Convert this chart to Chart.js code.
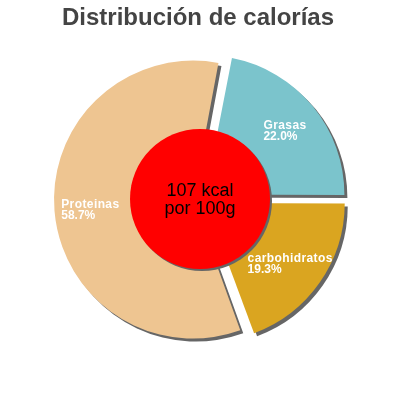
<!DOCTYPE html>
<html>
<head>
<meta charset="utf-8">
<script src="https://cdn.jsdelivr.net/npm/chart.js@4.4.1/dist/chart.umd.min.js"></script>
<style>
  body { margin: 0; background: #fff; }
  canvas { display: block; }
</style>
</head>
<body>
<canvas id="calChart" width="400" height="400"></canvas>
<script>
const labels = ["Grasas", "carbohidratos", "Proteinas"];
const percents = [22.0, 19.3, 58.7];
const colors = ["#7bc4cc", "#daa520", "#eec591"];
const titleText = "Distribución de calorías";
const centerLines = ["107 kcal", "por 100g"];

const font = '"Liberation Sans", Arial, sans-serif';

// Chart.js grows slices wider than 180deg by their offset; keep every slice the same radius
const baseArcDraw = Chart.ArcElement.prototype.draw;
Chart.ArcElement.prototype.draw = function(ctx) {
  let off = (this.options.offset || 0) / 4;
  let fix = (1 - Math.sin(Math.min(Math.PI, this.circumference || 0))) * off;
  this.outerRadius -= fix;
  baseArcDraw.call(this, ctx);
  this.outerRadius += fix;
};

// draws the drop shadow under the slices
const shadowPlugin = {
  id: "shadow",
  beforeDatasetsDraw(chart) {
    let ctx = chart.ctx;
    ctx.save();
    ctx.shadowColor = "#666";
    ctx.shadowOffsetX = 3;
    ctx.shadowOffsetY = 3;
    ctx.shadowBlur = 0;
  },
  afterDatasetsDraw(chart) {
    chart.ctx.restore();
  }
};

// title, red centre disc and the slice labels
const decorPlugin = {
  id: "decor",
  afterDraw(chart) {
    let ctx = chart.ctx;
    let arcs = chart.getDatasetMeta(0).data;
    let cx = arcs[0].x;
    let cy = arcs[0].y;

    ctx.save();
    ctx.fillStyle = "#444";
    ctx.font = "bold 24px " + font;
    ctx.textAlign = "center";
    ctx.textBaseline = "alphabetic";
    ctx.fillText(titleText, 198, 25);
    ctx.restore();

    ctx.save();
    ctx.shadowColor = "#666";
    ctx.shadowOffsetX = 2;
    ctx.shadowOffsetY = 2;
    ctx.beginPath();
    ctx.arc(cx, cy, 70, 0, Math.PI * 2);
    ctx.fillStyle = "#ff0000";
    ctx.fill();
    ctx.restore();

    ctx.save();
    ctx.fillStyle = "#000";
    ctx.font = "18px " + font;
    ctx.textAlign = "center";
    ctx.fillText(centerLines[0], cx, cy - 3);
    ctx.fillText(centerLines[1], cx, cy + 15);
    ctx.restore();

    arcs.forEach((arc, i) => {
      let mid = (arc.startAngle + arc.endAngle) / 2;
      let lx = cx + Math.cos(mid) * 110;
      let ly = cy + Math.sin(mid) * 110;
      let pct = percents[i].toFixed(1) + "%";
      ctx.save();
      ctx.fillStyle = "#fff";
      ctx.font = "bold 12px " + font;
      ctx.textAlign = "left";
      ctx.letterSpacing = "0.4px";
      let w1 = ctx.measureText(labels[i]).width;
      ctx.letterSpacing = "0px";
      let w2 = ctx.measureText(pct).width;
      let left = lx - Math.max(w1, w2) / 2;
      ctx.letterSpacing = "0.4px";
      ctx.fillText(labels[i], left, ly);
      ctx.letterSpacing = "0px";
      ctx.fillText(pct, left, ly + 11);
      ctx.restore();
    });
  }
};

new Chart(document.getElementById("calChart"), {
  type: "pie",
  data: {
    labels: labels,
    datasets: [{
      data: percents,
      backgroundColor: colors,
      borderWidth: 0,
      offset: 28,
      hoverOffset: 0
    }]
  },
  options: {
    responsive: false,
    animation: false,
    rotation: 11,
    radius: 139,
    layout: { padding: { top: 0, bottom: 2, left: 0, right: 0 } },
    plugins: {
      legend: { display: false },
      tooltip: { enabled: false },
      title: { display: false }
    }
  },
  plugins: [shadowPlugin, decorPlugin]
});
</script>
</body>
</html>
